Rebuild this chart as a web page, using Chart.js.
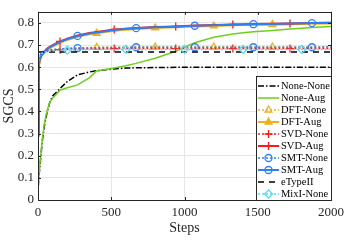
<!DOCTYPE html>
<html>
<head>
<meta charset="utf-8">
<script src="https://cdn.jsdelivr.net/npm/chart.js@4.4.1/dist/chart.umd.min.js"></script>
<style>
    html, body { margin: 0; padding: 0; background: #fff; }
</style>
</head>
<body>
<canvas id="sgcsChart" width="349" height="241"></canvas>
<script>
const steps = [0, 5, 10, 20, 30, 45, 60, 80, 100, 150, 200, 270, 350, 400, 520, 600, 670, 800, 940, 1000, 1070, 1200, 1330, 1400, 1470, 1600, 1720, 1800, 1870, 2000];

const noneNone = [0.06, 0.09, 0.13, 0.20, 0.27, 0.34, 0.39, 0.44, 0.47, 0.503, 0.535, 0.565, 0.578, 0.584, 0.592, 0.596, 0.597, 0.598, 0.599, 0.599, 0.6, 0.6, 0.6, 0.6, 0.6, 0.6, 0.6, 0.6, 0.6, 0.6];
const noneAug  = [0.07, 0.10, 0.14, 0.21, 0.28, 0.35, 0.40, 0.44, 0.46, 0.496, 0.507, 0.52, 0.552, 0.583, 0.596, 0.606, 0.617, 0.64, 0.672, 0.69, 0.71, 0.735, 0.75, 0.755, 0.76, 0.766, 0.772, 0.776, 0.779, 0.784];
const dftNone  = [0.60, 0.63, 0.645, 0.66, 0.665, 0.67, 0.674, 0.677, 0.679, 0.682, 0.685, 0.687, 0.688, 0.689, 0.69, 0.69, 0.691, 0.691, 0.691, 0.691, 0.691, 0.691, 0.691, 0.691, 0.691, 0.691, 0.691, 0.691, 0.691, 0.692];
const dftAug   = [0.30, 0.59, 0.62, 0.645, 0.655, 0.665, 0.675, 0.685, 0.693, 0.71, 0.723, 0.737, 0.748, 0.753, 0.764, 0.769, 0.772, 0.777, 0.78, 0.782, 0.784, 0.786, 0.789, 0.79, 0.791, 0.792, 0.794, 0.795, 0.796, 0.797];
const svdNone  = [0.60, 0.63, 0.645, 0.66, 0.665, 0.67, 0.672, 0.675, 0.677, 0.679, 0.68, 0.682, 0.683, 0.683, 0.684, 0.684, 0.684, 0.684, 0.684, 0.684, 0.684, 0.684, 0.684, 0.684, 0.684, 0.684, 0.684, 0.684, 0.684, 0.684];
const svdAug   = [0.30, 0.60, 0.63, 0.65, 0.66, 0.672, 0.683, 0.692, 0.70, 0.716, 0.729, 0.743, 0.754, 0.759, 0.77, 0.774, 0.777, 0.781, 0.784, 0.786, 0.788, 0.79, 0.793, 0.794, 0.795, 0.796, 0.797, 0.798, 0.799, 0.80];
const smtNone  = [0.60, 0.63, 0.645, 0.66, 0.665, 0.67, 0.674, 0.677, 0.679, 0.682, 0.684, 0.686, 0.687, 0.688, 0.689, 0.689, 0.69, 0.69, 0.69, 0.69, 0.69, 0.69, 0.69, 0.69, 0.69, 0.69, 0.69, 0.69, 0.69, 0.691];
const smtAug   = [0.29, 0.60, 0.63, 0.65, 0.66, 0.67, 0.68, 0.69, 0.697, 0.714, 0.727, 0.741, 0.752, 0.757, 0.768, 0.773, 0.776, 0.78, 0.783, 0.785, 0.787, 0.789, 0.792, 0.793, 0.794, 0.795, 0.797, 0.798, 0.799, 0.80];
const mixNone  = [0.61, 0.635, 0.65, 0.66, 0.664, 0.668, 0.67, 0.672, 0.674, 0.676, 0.677, 0.678, 0.679, 0.68, 0.68, 0.68, 0.68, 0.68, 0.68, 0.68, 0.68, 0.68, 0.68, 0.68, 0.68, 0.68, 0.68, 0.68, 0.68, 0.68];

// eTypeII is a flat reference line
const eTypeSteps = [0, 2000];
const eTypeII = [0.668, 0.668];

// steps where markers are shown for each method
const dftMarks = [400, 800, 1200, 1600];
const svdMarks = [150, 520, 940, 1330, 1720];
const smtMarks = [270, 670, 1070, 1470, 1870];
const mixMarks = [200, 600, 1000, 1400, 1800];

const xTicks = [0, 500, 1000, 1500, 2000];

const GREEN = '#6fcf1f', ORANGE = '#edb120', RED = '#ff1a1a', BLUE = '#2f7ff0', CYAN = '#5ed8f7';
const FONT = '"Liberation Serif", "Times New Roman", serif';

function toPoints(xs, ys) {
    return xs.map((x, i) => ({ x: x, y: ys[i] }));
}

function makeSet(label, ys, color, opts) {
    const marks = opts.marks || [];
    return {
        label: label,
        data: toPoints(opts.xs || steps, ys),
        borderColor: color,
        borderWidth: opts.width || 1.5,
        borderDash: opts.dash || [],
        pointStyle: opts.style || 'circle',
        pointRadius: ctx => marks.includes(ctx.raw && ctx.raw.x) ? (opts.radius || 4) : 0,
        pointBorderColor: color,
        pointBackgroundColor: opts.fill || 'rgba(255,255,255,0)',
        pointBorderWidth: 1.3,
        pointHoverRadius: 0,
        markStyle: opts.marks ? opts.style : null,
        markRadius: opts.radius || 4,
        tension: 0,
        fill: false
    };
}

const datasets = [
    makeSet('None-None', noneNone, '#000', { dash: [6, 2, 1.5, 2] }),
    makeSet('None-Aug', noneAug, GREEN, {}),
    makeSet('DFT-None', dftNone, ORANGE, { dash: [2, 2], style: 'triangle', marks: dftMarks }),
    makeSet('DFT-Aug', dftAug, ORANGE, { width: 2, style: 'triangle', marks: dftMarks, fill: ORANGE }),
    makeSet('SVD-None', svdNone, RED, { dash: [2, 2], style: 'cross', marks: svdMarks }),
    makeSet('SVD-Aug', svdAug, RED, { width: 2, style: 'cross', marks: svdMarks }),
    makeSet('SMT-None', smtNone, BLUE, { dash: [2, 2], style: 'circle', marks: smtMarks, radius: 3.5 }),
    makeSet('SMT-Aug', smtAug, BLUE, { width: 2, style: 'circle', marks: smtMarks, radius: 3.5 }),
    makeSet('eTypeII', eTypeII, '#000', { xs: eTypeSteps, dash: [6, 5] }),
    makeSet('MixI-None', mixNone, CYAN, { dash: [2, 2], style: 'rectRot', marks: mixMarks })
];
// later series on top, like the original plot
datasets.forEach((ds, i) => { ds.order = datasets.length - i; });

// box, inward ticks and the legend inside the axes
const boxAndLegend = {
    id: 'boxAndLegend',
    afterDatasetsDraw(chart) {
        const { ctx, chartArea: a, scales } = chart;
        ctx.save();
        ctx.strokeStyle = '#262626';
        ctx.lineWidth = 1;
        ctx.strokeRect(Math.round(a.left) + 0.5, Math.round(a.top) + 0.5, Math.round(a.right - a.left), Math.round(a.bottom - a.top));
        ctx.beginPath();
        scales.x.ticks.forEach(t => {
            const px = Math.round(scales.x.getPixelForValue(t.value)) + 0.5;
            ctx.moveTo(px, a.bottom); ctx.lineTo(px, a.bottom - 3);
            ctx.moveTo(px, a.top); ctx.lineTo(px, a.top + 3);
        });
        scales.y.ticks.forEach(t => {
            const py = Math.round(scales.y.getPixelForValue(t.value)) + 0.5;
            ctx.moveTo(a.left, py); ctx.lineTo(a.left + 3, py);
            ctx.moveTo(a.right, py); ctx.lineTo(a.right - 3, py);
        });
        ctx.stroke();

        // legend
        const w = 75, h = 124;
        const x0 = Math.round(a.right) - w, y0 = Math.round(a.bottom) - h;
        ctx.fillStyle = '#fff';
        ctx.fillRect(x0, y0, w, h);
        ctx.strokeStyle = '#262626';
        ctx.strokeRect(x0 + 0.5, y0 + 0.5, w, h);
        chart.data.datasets.forEach((ds, i) => {
            const y = y0 + 10 + i * 12;
            ctx.beginPath();
            ctx.setLineDash(ds.borderDash);
            ctx.strokeStyle = ds.borderColor;
            ctx.lineWidth = ds.borderWidth;
            ctx.moveTo(x0 + 2, y);
            ctx.lineTo(x0 + 23, y);
            ctx.stroke();
            ctx.setLineDash([]);
            if (ds.markStyle) {
                ctx.fillStyle = ds.pointBackgroundColor;
                ctx.strokeStyle = ds.borderColor;
                ctx.lineWidth = 1.3;
                Chart.helpers.drawPoint(ctx, { pointStyle: ds.markStyle, radius: ds.markRadius, rotation: 0, borderWidth: 1.3 }, x0 + 12.5, y);
            }
            ctx.fillStyle = '#000';
            ctx.font = '10.5px ' + FONT;
            ctx.textBaseline = 'middle';
            ctx.textAlign = 'left';
            ctx.fillText(ds.label, x0 + 25, y + 0.5);
        });
        ctx.restore();
    }
};

const ctx = document.getElementById('sgcsChart').getContext('2d');
const sgcsChart = new Chart(ctx, {
    type: 'line',
    data: { datasets: datasets },
    options: {
        responsive: false,
        animation: false,
        devicePixelRatio: 1,
        layout: { padding: { left: 0, right: 15, top: 3, bottom: 0 } },
        plugins: { legend: { display: false }, tooltip: { enabled: false } },
        scales: {
            x: {
                type: 'linear',
                min: 0,
                max: 2000,
                afterBuildTicks: s => { s.ticks = xTicks.map(v => ({ value: v })); },
                afterFit: s => { s.height = 41; },
                ticks: {
                    color: '#262626',
                    font: { family: FONT, size: 13 },
                    padding: 5,
                    maxRotation: 0,
                    autoSkip: false,
                    callback: v => String(v)
                },
                grid: { color: '#e6e6e6', drawTicks: false },
                border: { display: false },
                title: {
                    display: true,
                    text: 'Steps',
                    color: '#262626',
                    font: { family: FONT, size: 14, lineHeight: 1.2 },
                    padding: { top: 0, bottom: 4 }
                }
            },
            y: {
                min: 0,
                max: 0.85,
                afterFit: s => { s.width = 38; },
                ticks: {
                    stepSize: 0.1,
                    includeBounds: false,
                    color: '#262626',
                    font: { family: FONT, size: 13 },
                    padding: 4,
                    callback: v => v === 0 ? '0' : v.toFixed(1)
                },
                grid: { color: '#e6e6e6', drawTicks: false },
                border: { display: false },
                title: {
                    display: true,
                    text: 'SGCS',
                    color: '#262626',
                    font: { family: FONT, size: 14, lineHeight: 1.2 },
                    padding: { top: 1, bottom: 0 }
                }
            }
        }
    },
    plugins: [boxAndLegend]
});
</script>
</body>
</html>
